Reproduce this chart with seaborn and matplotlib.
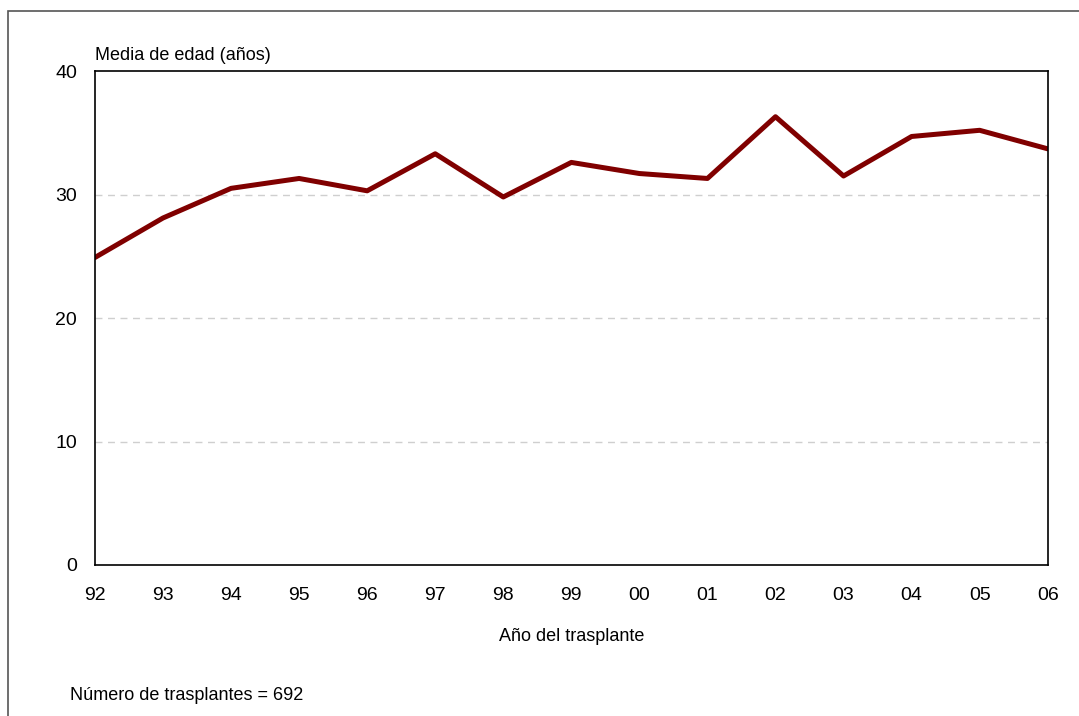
import matplotlib
matplotlib.use("Agg")
import matplotlib.pyplot as plt
import seaborn as sns
import pandas as pd

# data
years = ["92", "93", "94", "95", "96", "97", "98", "99", "00", "01", "02", "03", "04", "05", "06"]
mean_age = [24.9, 28.1, 30.5, 31.3, 30.3, 33.3, 29.8, 32.6, 31.7, 31.3, 36.3, 31.5, 34.7, 35.2, 33.7]
y_ticks = [0, 10, 20, 30, 40]

df = pd.DataFrame({"year": years, "age": mean_age})

sns.set_style("white")
plt.rcParams["font.family"] = ["Liberation Sans", "DejaVu Sans"]
plt.rcParams["text.color"] = "black"
plt.rcParams["axes.labelcolor"] = "black"

fig = plt.figure(figsize=(10.79, 7.16), dpi=100)
ax = fig.add_axes([0.088, 0.2109, 0.883, 0.6899])

sns.lineplot(data=df, x="year", y="age", ax=ax, color="#800000", linewidth=3.6, sort=False)

ax.set_xlim(0, len(years) - 1)
ax.set_ylim(0, 40)
ax.set_yticks(y_ticks)
ax.set_yticklabels([str(t) for t in y_ticks])
ax.tick_params(axis="x", length=0, pad=16, labelsize=14, colors="black")
ax.tick_params(axis="y", length=0, pad=13, labelsize=14, colors="black")

for t in y_ticks[1:-1]:
    ax.axhline(t, color="#cfcfcf", linestyle=(0, (5, 4)), linewidth=1.0, zorder=0)

for s in ax.spines.values():
    s.set_visible(True)
    s.set_color("black")
    s.set_linewidth(1.2)

ax.set_xlabel("Año del trasplante", fontsize=13, labelpad=17)
ax.set_ylabel("")
ax.text(0, 1.015, "Media de edad (años)", transform=ax.transAxes, fontsize=13,
        ha="left", va="bottom")
fig.text(70 / 1079, 1 - 695 / 716, "Número de trasplantes = 692", fontsize=13,
         ha="left", va="center")

# outer frame of the original figure
frame = plt.Rectangle((8 / 1079, -0.05), 1.1, 1 - 11 / 716 + 0.05, transform=fig.transFigure,
                      fill=False, edgecolor="#555555", linewidth=1.2)
fig.patches.append(frame)

fig.savefig("out.png", dpi=100)
